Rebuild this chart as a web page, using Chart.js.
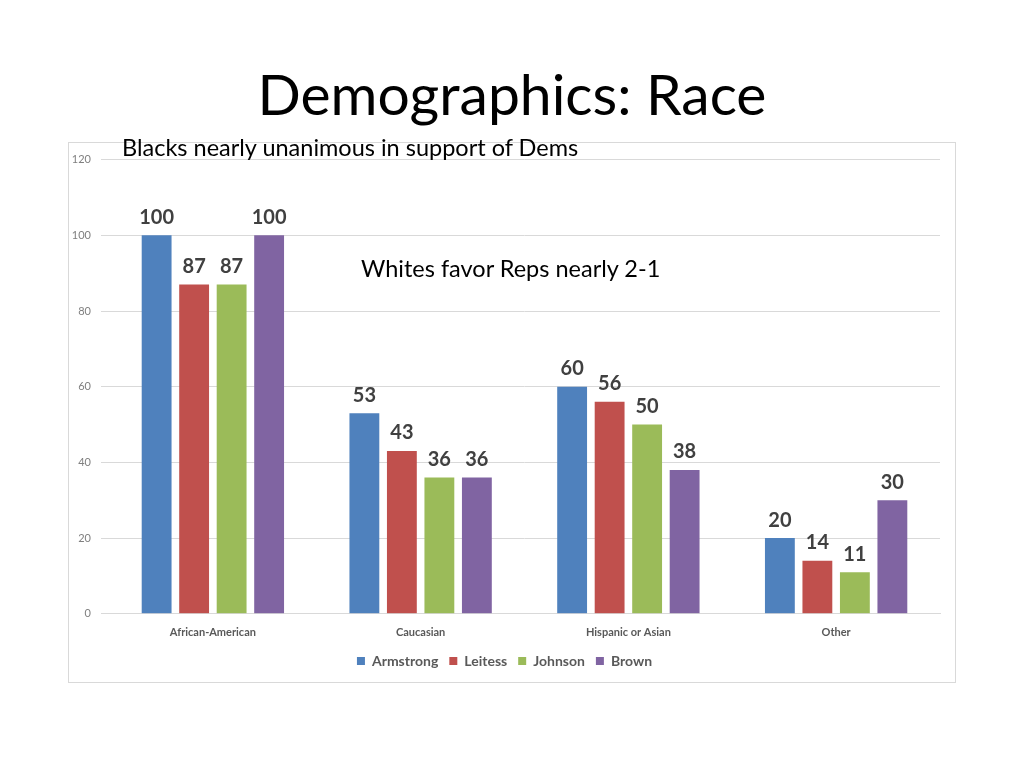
<!DOCTYPE html>
<html>
<head>
<meta charset="utf-8">
<script src="https://cdn.jsdelivr.net/npm/chart.js@4"></script>
<style>
  body { margin: 0; width: 1024px; height: 768px; background: #fff; position: relative; font-family: Lato, "Open Sans", sans-serif; }
  .title { position: absolute; left: 0; width: 1024px; top: 59px; text-align: center; font-size: 57px; color: #000; }
  .note { position: absolute; font-size: 23.5px; color: #000; white-space: nowrap; }
  .chart-box { position: absolute; left: 68px; top: 142px; width: 886px; height: 539px; border: 1px solid #d9d9d9; }
</style>
</head>
<body>
<div class="title">Demographics: Race</div>
<div class="chart-box"><canvas id="race-chart"></canvas></div>
<div class="note" style="left:122px; top:133px;">Blacks nearly unanimous in support of Dems</div>
<div class="note" style="left:361px; top:254px;">Whites favor Reps nearly 2-1</div>
<script>
const categories = ["African-American", "Caucasian", "Hispanic or Asian", "Other"];
const armstrong = [100, 53, 60, 20];
const leitess = [87, 43, 56, 14];
const johnson = [87, 36, 50, 11];
const brown = [100, 36, 38, 30];
const yTicks = [0, 20, 40, 60, 80, 100, 120];

// labels on top of each bar
const barLabels = {
  id: 'barLabels',
  afterDatasetsDraw(chart) {
    const ctx = chart.ctx;
    ctx.save();
    ctx.font = 'bold 20px Lato, sans-serif';
    ctx.fillStyle = '#404040';
    ctx.textAlign = 'center';
    ctx.textBaseline = 'bottom';
    chart.data.datasets.forEach((ds, i) => {
      chart.getDatasetMeta(i).data.forEach((bar, j) => {
        ctx.fillText(ds.data[j], bar.x, bar.y - 8);
      });
    });
    ctx.restore();
  }
};

const data = {
  labels: categories,
  datasets: [
    { label: 'Armstrong', data: armstrong, backgroundColor: '#4f81bd' },
    { label: 'Leitess', data: leitess, backgroundColor: '#c0504d' },
    { label: 'Johnson', data: johnson, backgroundColor: '#9bbb59' },
    { label: 'Brown', data: brown, backgroundColor: '#8064a2' }
  ]
};

const myChart = new Chart(document.getElementById('race-chart'), {
  type: 'bar',
  data: data,
  options: {
    responsive: true,
    maintainAspectRatio: false,
    animation: false,
    datasets: { bar: { categoryPercentage: 0.722, barPercentage: 0.796 } },
    layout: { padding: { top: 15, right: 15, bottom: 4, left: 0 } },
    plugins: {
      legend: {
        position: 'bottom',
        labels: { boxWidth: 8, boxHeight: 8, padding: 11, color: '#595959', font: { family: 'Lato', size: 14, weight: 'bold' } }
      },
      tooltip: { enabled: false }
    },
    scales: {
      x: {
        grid: { display: false },
        border: { color: '#d9d9d9' },
        ticks: { color: '#595959', padding: 4, font: { family: 'Lato', size: 11, weight: 'bold' } }
      },
      y: {
        min: 0,
        max: 120,
        afterBuildTicks: (axis) => { axis.ticks = yTicks.map(v => ({ value: v })); },
        afterFit: (axis) => { axis.width = 40; },
        grid: { color: '#d9d9d9' },
        border: { display: false },
        ticks: { color: '#7f7f7f', padding: 10, font: { family: 'Lato', size: 11 } }
      }
    }
  },
  plugins: [barLabels]
});
</script>
</body>
</html>
